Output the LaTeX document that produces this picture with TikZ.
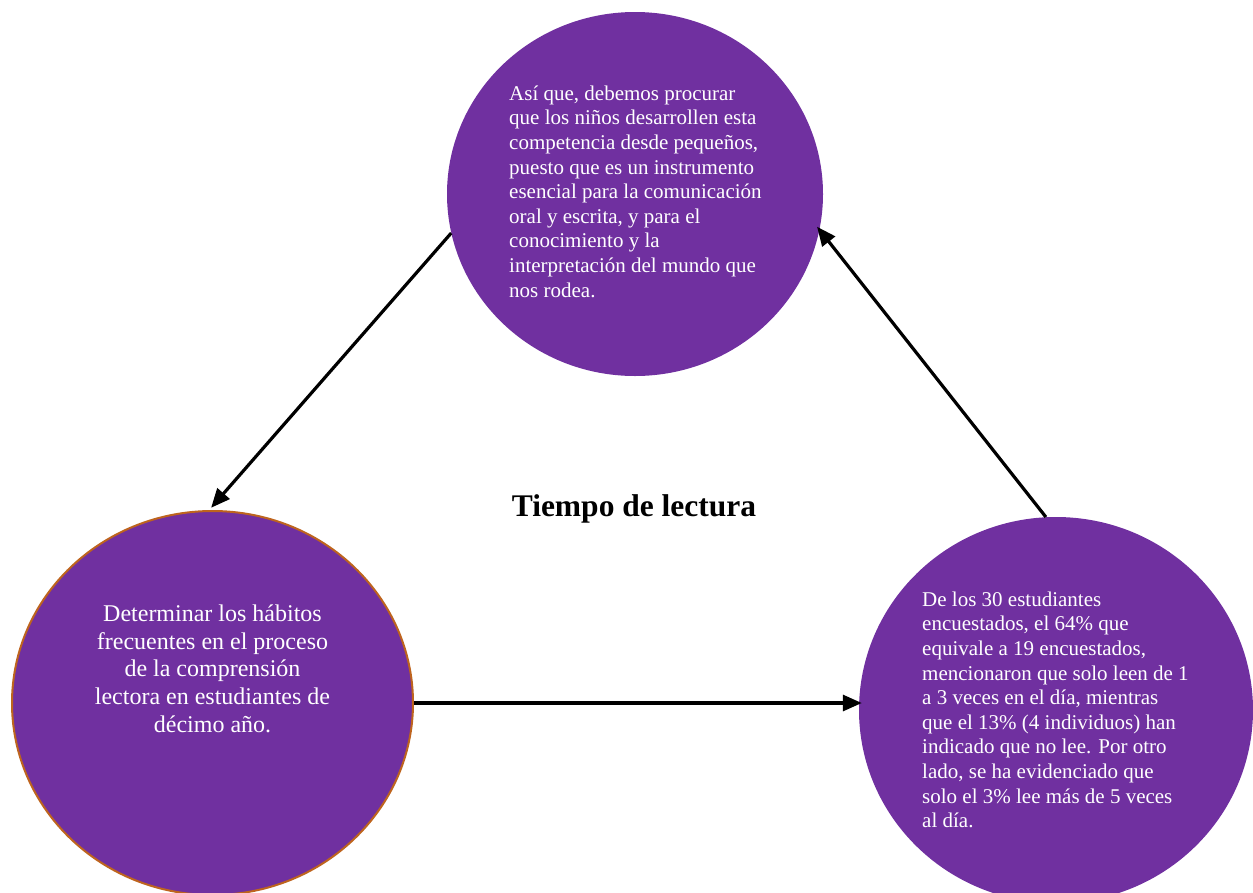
\documentclass[tikz,border=0pt]{standalone}
\usepackage{fontspec}
\setmainfont{Liberation Serif}
\usetikzlibrary{shapes.geometric,arrows.meta}
\definecolor{purp}{RGB}{112,48,160}
\definecolor{brownedge}{RGB}{190,100,30}
\tikzset{
  bubble/.style={ellipse, fill=purp, inner sep=0pt},
  arr/.style={line width=3.2pt, -{Triangle[length=19pt,width=16pt]}},
  txt/.style={text=white, inner sep=0pt}
}
\begin{document}
\begin{tikzpicture}[x=1pt,y=-1pt]
\useasboundingbox (0,0) rectangle (1253,892);
\node[bubble, minimum width=376pt, minimum height=364pt] (top) at (635,194) {};
\node[bubble, draw=brownedge, line width=2pt, minimum width=401pt, minimum height=384pt] (left) at (212.5,703) {};
\node[bubble, minimum width=394pt, minimum height=386pt] (right) at (1056,710) {};

\node[txt, anchor=north west, align=left, font=\fontsize{21}{24.6}\selectfont] (ttop) at (509,85.5) {Así que, debemos procurar\\que los niños desarrollen esta\\competencia desde pequeños,\\puesto que es un instrumento\\esencial para la comunicación\\oral y escrita, y para el\\conocimiento y la\\interpretación del mundo que\\nos rodea.};

\node[txt, anchor=north, align=center, font=\fontsize{24}{27.7}\selectfont] (tleft) at (212.5,604.5) {Determinar los hábitos\\frecuentes en el proceso\\de la comprensión\\lectora en estudiantes de\\décimo año.};

\node[txt, anchor=north west, align=left, font=\fontsize{21}{24.6}\selectfont] (tright) at (922,591.5) {De los 30 estudiantes\\encuestados, el 64\% que\\equivale a 19 encuestados,\\mencionaron que solo leen de 1\\a 3 veces en el día, mientras\\que el 13\% (4 individuos) han\\indicado que no lee. Por otro\\lado, se ha evidenciado que\\solo el 3\% lee más de 5 veces\\al día.};

\node[anchor=base, font=\fontsize{31.5}{36}\selectfont\bfseries] (title) at (634,516) {Tiempo de lectura};

\draw[arr, shorten >=3pt] (top.192.7) -- (left.91);
\draw[arr, shorten >=-3pt] (left.east) -- (left.east -| right.west);
\draw[arr, shorten >=-4pt] (right.93.9) -- (top.-11.5);
\end{tikzpicture}
\end{document}
